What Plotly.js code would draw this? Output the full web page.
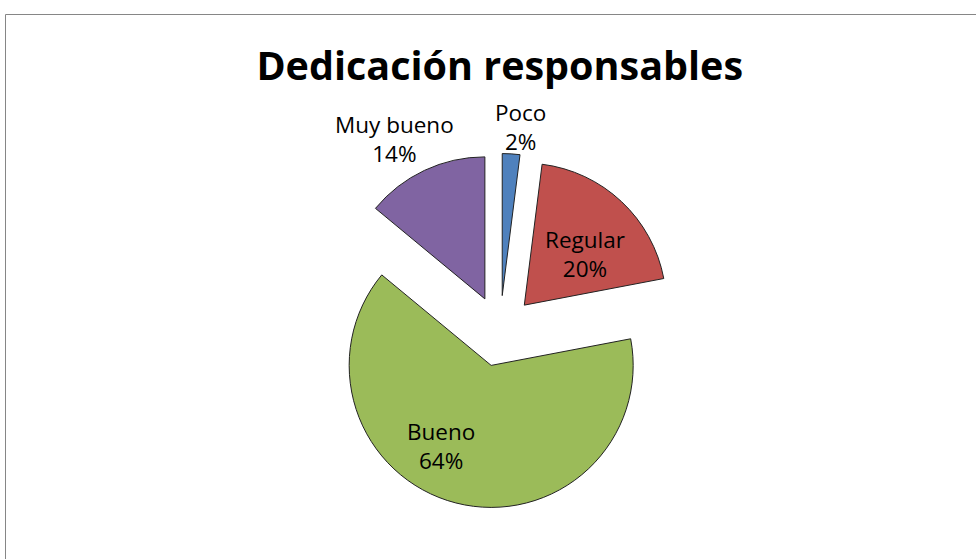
<!DOCTYPE html>
<html><head><meta charset="utf-8">
<script src="https://cdn.plot.ly/plotly-3.0.1.min.js"></script>
<style>html,body{margin:0;padding:0;background:#fff}#chart{width:976px;height:559px}</style>
</head><body><div id="chart"></div>
<script>
var categories = ['Poco', 'Regular', 'Bueno', 'Muy bueno'];
var values = [2, 20, 64, 14];
var colors = ['#4F81BD', '#C0504D', '#9BBB59', '#8064A2'];
var titleText = 'Dedicación responsables';

var total = values.reduce(function (a, b) { return a + b; }, 0);

var trace = {
  type: 'pie',
  labels: categories,
  values: values,
  sort: false,
  direction: 'clockwise',
  rotation: 0,
  pull: 0.25,
  marker: {colors: colors, line: {color: '#222', width: 1}},
  textinfo: 'none',
  showlegend: false,
  hoverinfo: 'none',
  automargin: false,
  domain: {x: [250/976, 750/976], y: [0.0903, 0.7254]}
};

// label anchor points (pixels in the 976x559 frame), one per slice
var labelPx = [[520, 127], [585, 254], [441, 446], [394, 139]];
var annotations = categories.map(function (c, i) {
  return {
    xref: 'paper', yref: 'paper',
    x: labelPx[i][0] / 976, y: 1 - labelPx[i][1] / 559,
    xanchor: 'center', yanchor: 'middle',
    text: c + '<br>' + Math.round(values[i] / total * 100) + '%',
    showarrow: false,
    font: {family: 'Open Sans, sans-serif', size: 22.5, color: '#000'}
  };
});

var layout = {
  width: 976, height: 559,
  margin: {l: 0, r: 0, t: 0, b: 0},
  paper_bgcolor: '#fff',
  title: {text: '<b>' + titleText + '</b>', font: {family: 'Open Sans, sans-serif', size: 39.5, color: '#000'}, x: 0.512, xanchor: 'center', y: 0.882, yanchor: 'middle'},
  annotations: annotations,
  shapes: [{type: 'rect', xref: 'paper', yref: 'paper', x0: 5.5/976, x1: 1.05, y0: -0.05, y1: 1 - 14.5/559, line: {color: '#868686', width: 1}, fillcolor: 'rgba(0,0,0,0)'}]
};

Plotly.newPlot('chart', [trace], layout, {displayModeBar: false, staticPlot: true});
</script></body></html>
